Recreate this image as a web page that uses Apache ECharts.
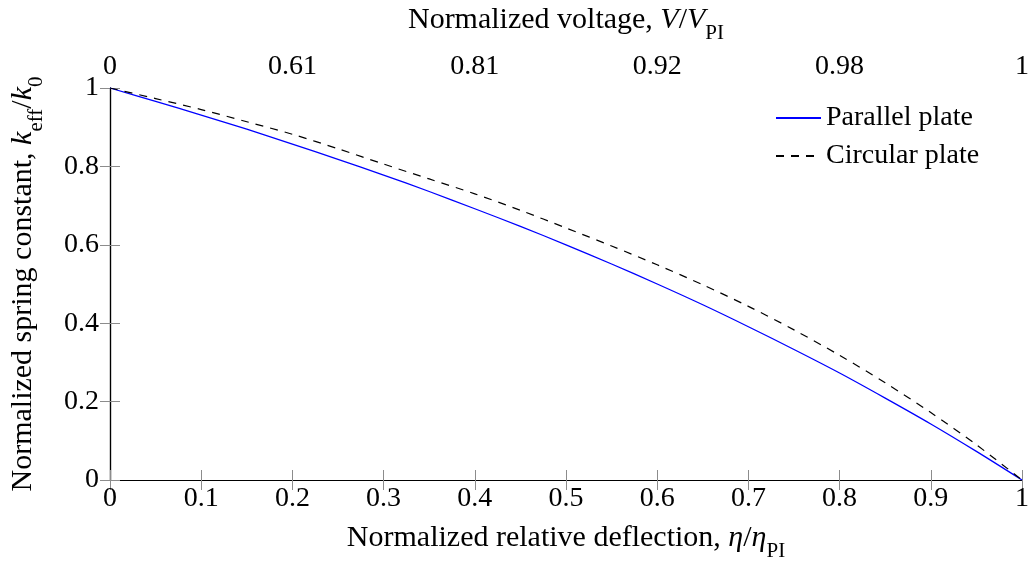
<!DOCTYPE html>
<html>
<head>
<meta charset="utf-8">
<script src="https://cdn.jsdelivr.net/npm/echarts@6/dist/echarts.min.js"></script>
<style>html,body{margin:0;padding:0;background:#fff}#c{width:1032px;height:567px}</style>
</head>
<body>
<div id="c"></div>
<script>
// Data
var deflection = [0,0.05,0.1,0.15,0.2,0.25,0.3,0.35,0.4,0.45,0.5,0.55,0.6,0.65,0.7,0.75,0.8,0.85,0.9,0.95,1];
var parallelPlate = [1,0.966,0.931,0.895,0.857,0.818,0.778,0.736,0.692,0.647,0.6,0.551,0.5,0.447,0.391,0.333,0.273,0.209,0.143,0.073,0];
var circularPlate = [1,0.973,0.945,0.914,0.882,0.845,0.806,0.768,0.73,0.688,0.643,0.597,0.549,0.498,0.443,0.383,0.318,0.248,0.172,0.09,0];
var topTickPositions = [0,0.2,0.4,0.6,0.8,1];
var topTickLabels = ['0','0.61','0.81','0.92','0.98','1'];

function pairs(xs, ys){ return xs.map(function(x,i){return [x, ys[i]];}); }
var FONT = '"Liberation Serif", "DejaVu Serif", serif';
var TICK = 28, TITLE = 30;
var tickStyle = {show:true, inside:true, length:10, lineStyle:{color:'#8c8c8c', width:1}};
var chart = echarts.init(document.getElementById('c'));
var subRich = {
  it:{fontStyle:'italic', fontSize:TITLE, fontFamily:FONT, color:'#000'},
  sub:{fontSize:21, fontFamily:FONT, color:'#000', verticalAlign:'bottom', padding:[0,0,-9,0]}
};
chart.setOption({
  animation:false,
  textStyle:{fontFamily:FONT},
  grid:{left:109, right:9, top:82, bottom:87, containLabel:false},
  legend:{
    orient:'vertical', left:770, top:99, itemGap:10, itemWidth:45, itemHeight:28,
    itemStyle:{opacity:0},
    textStyle:{fontSize:28, fontFamily:FONT, color:'#000'},
    data:['Parallel plate','Circular plate']
  },
  xAxis:[{
    type:'value', position:'bottom', min:0, max:1, interval:0.1,
    axisLine:{show:true, lineStyle:{color:'#000', width:1.2}},
    axisTick:tickStyle, splitLine:{show:false},
    axisLabel:{fontSize:TICK, fontFamily:FONT, color:'#000', margin:5,
      formatter:function(v){ return String(Math.round(v*10)/10); }},
    name:'Normalized relative deflection, {it|η}/{it|η}{sub|PI}',
    nameLocation:'middle', nameGap:43,
    nameTextStyle:{fontSize:TITLE, fontFamily:FONT, color:'#000', rich:subRich}
  },{
    type:'value', position:'top', min:0, max:1, interval:0.1,
    axisLine:{show:true, lineStyle:{color:'#000', width:1.2}},
    axisTick:tickStyle, splitLine:{show:false},
    axisLabel:{fontSize:TICK, fontFamily:FONT, color:'#000', margin:7,
      formatter:function(v){
        for (var i=0;i<topTickPositions.length;i++){ if (Math.abs(topTickPositions[i]-v)<1e-6) return topTickLabels[i]; }
        return '';
      }},
    name:'Normalized voltage, {it|V}/{it|V}{sub|PI}',
    nameLocation:'middle', nameGap:53,
    nameTextStyle:{fontSize:TITLE, fontFamily:FONT, color:'#000', rich:subRich}
  }],
  yAxis:[{
    type:'value', position:'left', min:0, max:1, interval:0.2,
    axisLine:{show:true, lineStyle:{color:'#000', width:1.2}},
    axisTick:tickStyle, splitLine:{show:false},
    axisLabel:{fontSize:TICK, fontFamily:FONT, color:'#000', margin:11,
      formatter:function(v){ return String(Math.round(v*10)/10); }},
    name:'Normalized spring constant, {it|k}{sub|eff}/{it|k}{sub|0}',
    nameLocation:'middle', nameGap:72, nameRotate:90,
    nameTextStyle:{fontSize:TITLE, fontFamily:FONT, color:'#000', rich:subRich}
  },{
    type:'value', position:'right', min:0, max:1, interval:0.2,
    axisLine:{show:true, lineStyle:{color:'#000', width:1.2}},
    axisTick:tickStyle, splitLine:{show:false}, axisLabel:{show:false}
  }],
  series:[{
    name:'Parallel plate', type:'line', xAxisIndex:0, yAxisIndex:0,
    data:pairs(deflection, parallelPlate), smooth:0.3, symbol:'none',
    lineStyle:{color:'#0000ff', width:1.3}, itemStyle:{color:'#0000ff'}
  },{
    name:'Circular plate', type:'line', xAxisIndex:0, yAxisIndex:0,
    data:pairs(deflection, circularPlate), smooth:0.3, symbol:'none',
    lineStyle:{color:'#000', width:1.2, type:[8,7]}, itemStyle:{color:'#000'}
  }]
});
</script>
</body>
</html>
